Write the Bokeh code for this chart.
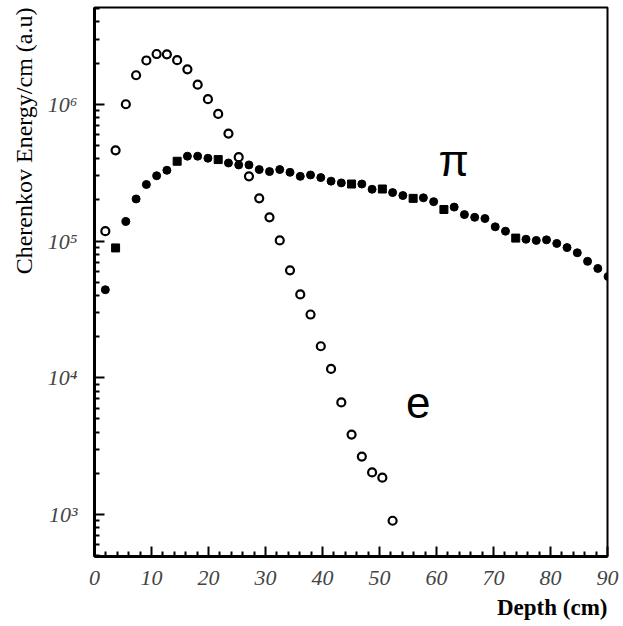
from bokeh.plotting import figure
from bokeh.models import FixedTicker, Label, ColumnDataSource, Title
from bokeh.embed import file_html
from bokeh.resources import INLINE

# ---- data ----
x_e = [1.9, 3.7, 5.5, 7.3, 9.1, 10.9, 12.7, 14.5, 16.3, 18.1, 19.9, 21.7, 23.5, 25.3,
       27.1, 28.9, 30.7, 32.5, 34.3, 36.1, 37.9, 39.7, 41.5, 43.3, 45.1, 46.9, 48.7,
       50.5, 52.3]
y_e = [1.18e5, 4.6e5, 1.0e6, 1.63e6, 2.09e6, 2.33e6, 2.32e6, 2.1e6, 1.8e6, 1.39e6,
       1.09e6, 8.5e5, 6.1e5, 4.1e5, 2.97e5, 2.05e5, 1.49e5, 1.01e5, 6.1e4, 4.07e4,
       2.9e4, 1.7e4, 1.16e4, 6.6e3, 3.84e3, 2.65e3, 2.03e3, 1.86e3, 9.0e2]

x_pi = [1.9, 3.7, 5.5, 7.3, 9.1, 10.9, 12.7, 14.5, 16.3, 18.1, 19.9, 21.7, 23.5, 25.3,
        27.1, 28.9, 30.7, 32.5, 34.3, 36.1, 37.9, 39.7, 41.5, 43.3, 45.1, 46.9, 48.7,
        50.5, 52.3, 54.1, 55.9, 57.7, 59.5, 61.3, 63.1, 64.9, 66.7, 68.5, 70.3, 72.1,
        73.9, 75.7, 77.5, 79.3, 81.1, 82.9, 84.7, 86.5, 88.3, 90.1]
y_pi = [4.4e4, 8.9e4, 1.39e5, 2.03e5, 2.59e5, 3.0e5, 3.29e5, 3.83e5, 4.17e5, 4.17e5,
        4.03e5, 3.94e5, 3.72e5, 3.6e5, 3.6e5, 3.33e5, 3.22e5, 3.33e5, 3.18e5, 2.97e5,
        3.04e5, 2.91e5, 2.74e5, 2.66e5, 2.61e5, 2.61e5, 2.39e5, 2.4e5, 2.26e5, 2.15e5,
        2.05e5, 2.07e5, 1.94e5, 1.7e5, 1.77e5, 1.56e5, 1.49e5, 1.46e5, 1.27e5, 1.18e5,
        1.05e5, 1.03e5, 1.01e5, 1.02e5, 9.6e4, 8.95e4, 8.2e4, 7.1e4, 6.3e4, 5.5e4]
m_pi = ["circle", "square", "circle", "circle", "circle", "circle", "circle", "square",
        "circle", "circle", "circle", "square", "circle", "circle", "circle", "circle",
        "circle", "circle", "circle", "circle", "circle", "circle", "circle", "circle",
        "square", "circle", "circle", "square", "circle", "circle", "square", "circle",
        "circle", "square", "circle", "circle", "circle", "circle", "circle", "circle",
        "square", "circle", "circle", "circle", "circle", "circle", "circle", "circle",
        "circle", "circle"]

x_ticks = [0, 10, 20, 30, 40, 50, 60, 70, 80, 90]
y_ticks = [1e3, 1e4, 1e5, 1e6]
y_tick_labels = ["10³", "10⁴", "10⁵", "10⁶"]

x_title = "Depth (cm)"
y_title = "Cherenkov Energy/cm (a.u)"
labels = [("π", 63.0, 3.86e5), ("e", 56.8, 6.6e3)]

# ---- figure ----
p = figure(width=623, height=626, y_axis_type="log",
           x_range=(0, 90), y_range=(493, 5.1e6),
           output_backend="svg", toolbar_location=None,
           min_border_left=94, min_border_right=16,
           min_border_top=7, min_border_bottom=70)
p.grid.visible = False
p.outline_line_color = "black"
p.outline_line_width = 2
p.background_fill_color = "white"
p.border_fill_color = "white"

x_minor = [v for v in range(0, 91, 2) if v % 10 != 0]
y_minor = [m * 10 ** d for d in range(2, 7) for m in range(2, 10)
           if 493 < m * 10 ** d < 5.1e6]

for ax in (p.xaxis[0], p.yaxis[0]):
    ax.axis_line_width = 3
    ax.axis_line_color = "black"
    ax.major_tick_in = 10
    ax.major_tick_out = 0
    ax.minor_tick_in = 5
    ax.minor_tick_out = 0
    ax.major_tick_line_width = 2
    ax.minor_tick_line_width = 2
    ax.major_label_text_font = "Liberation Serif"
    ax.major_label_text_font_style = "italic"
    ax.major_label_text_font_size = "22px"
    ax.major_label_text_color = "#444444"

p.xaxis[0].ticker = FixedTicker(ticks=x_ticks, minor_ticks=x_minor)
p.xaxis[0].major_label_standoff = 14
p.yaxis[0].ticker = FixedTicker(ticks=y_ticks, minor_ticks=y_minor)
p.yaxis[0].major_label_overrides = {t: s for t, s in zip(y_ticks, y_tick_labels)}
p.yaxis[0].major_label_standoff = 17

src_pi = ColumnDataSource(dict(x=x_pi, y=y_pi, m=m_pi))
p.scatter("x", "y", marker="m", source=src_pi, size=8,
          fill_color="black", line_color="black", line_width=1)
p.scatter(x_e, y_e, marker="circle", size=8, fill_color="white",
          line_color="black", line_width=2.2)

for txt, lx, ly in labels:
    p.add_layout(Label(x=lx, y=ly, text=txt, text_align="center",
                       text_baseline="alphabetic", text_font="Liberation Sans",
                       text_font_size="44px", text_color="black"))

p.add_layout(Title(text=y_title, align="right", text_font="Liberation Serif",
                   text_font_size="24px", text_font_style="normal",
                   text_color="black", standoff=16, offset=0), "left")
p.add_layout(Title(text=x_title, align="right", text_font="Liberation Serif",
                   text_font_size="23px", text_font_style="bold",
                   text_color="black", standoff=11, offset=0), "below")

open("out.html", "w").write(file_html(p, INLINE))
